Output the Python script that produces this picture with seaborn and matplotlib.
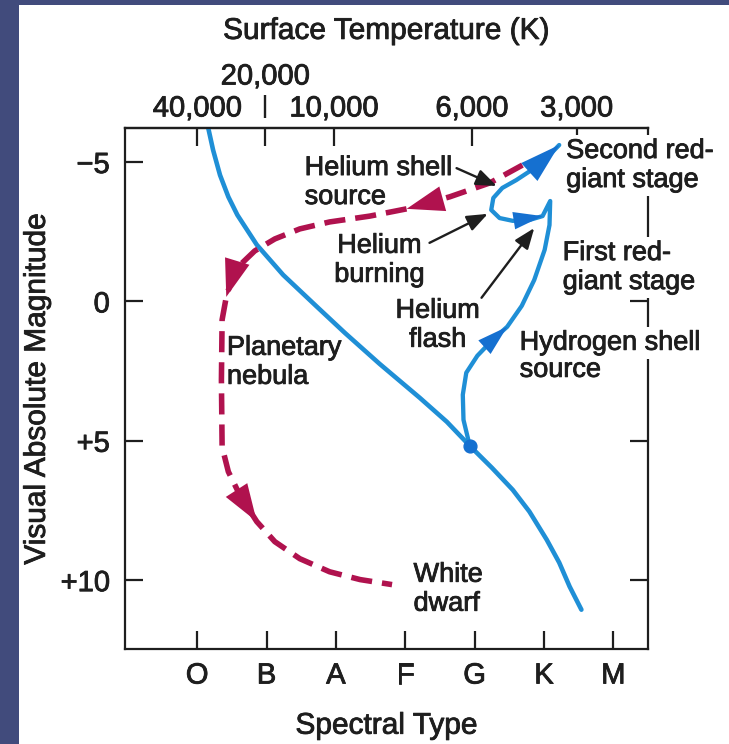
import numpy as np
import pandas as pd
import seaborn as sns
import matplotlib.pyplot as plt
import matplotlib.patheffects as pe
from matplotlib.patches import Rectangle
from matplotlib.text import Text

sns.set_theme(style='white')
plt.rcParams['font.family'] = ['Liberation Sans', 'DejaVu Sans']

#
# Chart values
#
spectral_types = ['O', 'B', 'A', 'F', 'G', 'K', 'M']
temp_pos = [0.0, 1.97, 3.96, 5.47]
temp_labels = ['40,000', '10,000', '6,000', '3,000']
temp_pos_high = [0.98]
temp_labels_high = ['20,000']
mag_ticks = [-5, 0, 5, 10]
mag_labels = ['\u22125', '0', '+5', '+10']

# main sequence: spectral class index vs absolute magnitude
ms_x = [0.16, 0.23, 0.33, 0.45, 0.58, 0.86, 1.24, 1.73, 2.13, 2.63,
        3.21, 3.60, 3.93, 4.25, 4.55, 4.79, 5.04, 5.22, 5.37, 5.54]
ms_y = [-6.22, -5.43, -4.53, -3.75, -3.10, -2.03, -0.95, 0.20, 1.13, 2.24,
        3.46, 4.32, 5.18, 5.97, 6.76, 7.54, 8.55, 9.37, 10.23, 11.06]

# sun-like star leaving the main sequence (red giant, helium burning loop)
trk_x = [3.93, 3.84, 3.83, 3.88, 4.04, 4.26, 4.47, 4.68, 4.86, 5.01, 5.08,
         5.09, 4.98, 4.79, 4.55, 4.36, 4.24, 4.27, 4.40, 4.60, 4.82, 5.01, 5.22]
trk_y = [5.18, 4.25, 3.35, 2.56, 1.95, 1.38, 0.91, 0.16, -0.77, -1.85, -2.74,
         -3.60, -3.06, -2.92, -2.89, -2.99, -3.28, -3.71, -4.07, -4.35, -4.71,
         -5.07, -5.61]
trk_arrows = [(5, 6), (14, 12), (20, 22)]

# planetary nebula ejection down to the white dwarf
pn_x = [4.69, 4.22, 3.64, 3.02, 2.49, 1.91, 1.48, 1.12, 0.83, 0.62, 0.49, 0.42,
        0.36, 0.35, 0.36, 0.45, 0.62, 0.86, 1.12, 1.48, 1.91, 2.35, 2.81]
pn_y = [-4.89, -4.25, -3.75, -3.32, -3.06, -2.85, -2.60, -2.24, -1.81, -1.31,
        -0.73, -0.16, 0.66, 2.81, 5.22, 6.11, 6.97, 7.90, 8.62, 9.23, 9.70,
        9.98, 10.16]
pn_arrows = [(2, 3), (10, 11), (16, 17)]

sun_x, sun_y = 3.93, 5.18

#
# Colours
#
blue = '#1f8fd6'
blue_dark = '#1570d0'
red = '#b0124e'
ink = '#1e1e1e'

fig = plt.figure(figsize=(7.29, 7.44), dpi=100)
fig.patch.set_facecolor('#414b7c')
fig.add_artist(Rectangle((19 / 729, 0), 1, 1 - 5 / 744, transform=fig.transFigure,
                         facecolor='white', edgecolor='none', zorder=-1))
ax = fig.add_axes([125 / 729, 1 - 649 / 744, 523 / 729, 521 / 744])
ax.set_facecolor('white')

ms = pd.DataFrame({'x': ms_x, 'y': ms_y})
trk = pd.DataFrame({'x': trk_x, 'y': trk_y})
pn = pd.DataFrame({'x': pn_x, 'y': pn_y})

sns.lineplot(data=ms, x='x', y='y', sort=False, estimator=None, color=blue,
             lw=3.3, ax=ax)
sns.lineplot(data=pn, x='x', y='y', sort=False, estimator=None, color=red,
             lw=4.0, linestyle=(0, (3.8, 1.8)), ax=ax)
sns.lineplot(data=trk, x='x', y='y', sort=False, estimator=None, color=blue,
             lw=3.1, ax=ax)
ax.scatter([sun_x], [sun_y], s=85, color=blue_dark, zorder=5)

# arrow heads along the tracks
for t, h in pn_arrows:
    ax.annotate('', xy=(pn_x[h], pn_y[h]), xytext=(pn_x[t], pn_y[t]),
                arrowprops=dict(arrowstyle='-|>,head_length=1.0,head_width=0.34',
                                mutation_scale=27, color=red, lw=0,
                                shrinkA=0, shrinkB=0), zorder=4)
for (t, h), size in zip(trk_arrows, [22, 21, 29]):
    ax.annotate('', xy=(trk_x[h], trk_y[h]), xytext=(trk_x[t], trk_y[t]),
                arrowprops=dict(arrowstyle='-|>,head_length=1.0,head_width=0.3',
                                mutation_scale=size, color=blue_dark, lw=0,
                                shrinkA=0, shrinkB=0), zorder=4)

# black pointers from the labels
pointers = [((3.74, -4.78), (4.32, -4.14)),
            ((3.35, -2.10), (4.19, -3.14)),
            ((4.10, -0.13), (4.86, -2.63))]
for start, tip in pointers:
    ax.annotate('', xy=tip, xytext=start,
                arrowprops=dict(arrowstyle='-|>,head_length=0.9,head_width=0.35',
                                mutation_scale=14, color=ink, lw=1.7,
                                shrinkA=0, shrinkB=0), zorder=6)

lab = dict(fontsize=19.5, color=ink, va='top', linespacing=1.15)
ax.text(1.55, -5.25, 'Helium shell\nsource', ha='left', **lab)
ax.text(2.63, -2.46, 'Helium\nburning', ha='center', **lab)
ax.text(3.47, -0.13, 'Helium\nflash', ha='center', **lab)
ax.text(0.43, 1.20, 'Planetary\nnebula', ha='left', **lab)
ax.text(3.12, 9.34, 'White\ndwarf', ha='left', **lab)
# these sit over the right frame line, which is broken behind them
cover = dict(facecolor='white', edgecolor='none', pad=2)
ax.text(5.32, -5.86, 'Second red-\ngiant stage', ha='left', bbox=cover, **lab)
ax.text(5.27, -2.20, 'First red-\ngiant stage', ha='left', bbox=cover, **lab)
ax.text(4.65, 1.02, 'Hydrogen shell', ha='left', bbox=cover, **lab)
ax.text(4.65, 1.99, 'source', ha='left', **lab)

#
# Axes
#
ax.set_xlim(-1.04, 6.5)
ax.set_ylim(12.47, -6.22)
ax.set_xticks(range(len(spectral_types)), labels=spectral_types)
ax.set_yticks(mag_ticks, labels=mag_labels)
ax.tick_params(axis='both', direction='in', length=13, width=1.6, color=ink,
               labelsize=21, labelcolor=ink, top=False, right=True,
               bottom=True, left=True)
ax.tick_params(axis='x', pad=9)
ax.tick_params(axis='y', pad=11)
for side in ax.spines.values():
    side.set_color(ink)
    side.set_linewidth(1.6)

sec = ax.secondary_xaxis('top')
sec.set_xticks(temp_pos, labels=temp_labels)
sec.set_xticks(temp_pos_high, labels=temp_labels_high, minor=True)
sec.tick_params(which='both', direction='in', length=13, width=1.6, color=ink,
                labelsize=21, labelcolor=ink, pad=4)
sec.tick_params(which='minor', pad=27)
sec.spines['top'].set_color(ink)
sec.spines['top'].set_linewidth(1.6)
sec.set_xlabel('Surface Temperature (K)', fontsize=21.5, color=ink, labelpad=17)

# the raised 20,000 label is tied to its tick by a short bar above the frame
ax.plot([temp_pos_high[0]] * 2, [1.019, 1.063], transform=ax.get_xaxis_transform(),
        clip_on=False, color=ink, lw=1.7, solid_capstyle='butt')

ax.set_xlabel('Spectral Type', fontsize=21.5, color=ink, labelpad=16)
ax.set_ylabel('Visual Absolute Magnitude', fontsize=21.5, color=ink, labelpad=7)

# the printed lettering is a little heavier than the plain regular face
for txt in fig.findobj(Text):
    txt.set_path_effects([pe.withStroke(linewidth=0.6, foreground=ink)])

fig.savefig('out.png', dpi=100, facecolor=fig.get_facecolor())
